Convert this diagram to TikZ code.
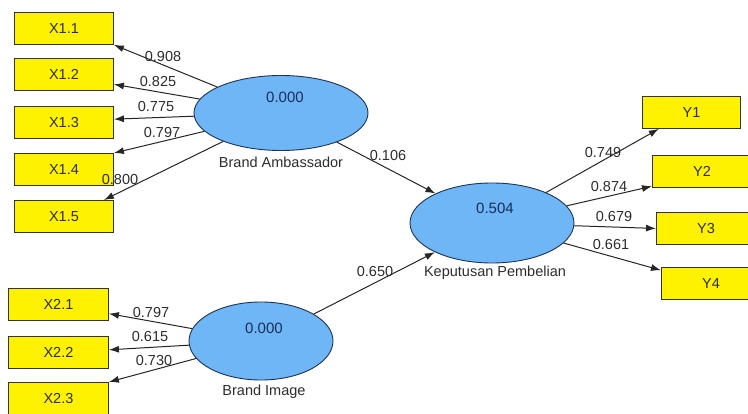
\documentclass[tikz,border=0pt]{standalone}
\usepackage{fontspec}
\setmainfont{Liberation Sans}
\usetikzlibrary{arrows.meta,calc,shapes.geometric}
\definecolor{lvfill}{RGB}{110,182,245}
\definecolor{lvline}{RGB}{30,50,85}
\definecolor{boxline}{RGB}{50,50,40}
\definecolor{txt}{RGB}{45,45,45}
\definecolor{numtxt}{RGB}{25,45,90}
\begin{document}
\begin{tikzpicture}[x=1pt,y=-1pt,
  mv/.style={draw=boxline, fill=yellow, line width=0.9pt, minimum width=99pt,
    minimum height=32pt, inner sep=0pt, anchor=north west,
    font=\fontsize{14.5}{14.5}\selectfont, text=txt},
  lv/.style={ellipse, draw=lvline, fill=lvfill, line width=0.9pt, inner sep=0pt},
  lvnum/.style={font=\fontsize{15}{15}\selectfont, text=numtxt, inner sep=0pt},
  lvname/.style={font=\fontsize{14.5}{14.5}\selectfont, text=txt, inner sep=0pt},
  coef/.style={font=\fontsize{14.5}{14.5}\selectfont, text=txt, inner sep=0pt},
  arr/.style={draw=black!85, line width=1pt, -{Latex[length=10pt,width=7pt]}}]
\useasboundingbox (0,0) rectangle (748,414);
\fill[white] (0,0) rectangle (748,414);

% indicator boxes
\node[mv] (X11) at (14,12) {X1.1};
\node[mv] (X12) at (14,58) {X1.2};
\node[mv] (X13) at (14,106) {X1.3};
\node[mv] (X14) at (14,153) {X1.4};
\node[mv] (X15) at (14,200) {X1.5};
\node[mv, minimum width=100pt] (X21) at (8,288) {X2.1};
\node[mv, minimum width=100pt] (X22) at (8,336) {X2.2};
\node[mv, minimum width=100pt] (X23) at (8,382) {X2.3};
\node[mv, minimum width=98pt] (Y1) at (642,96) {Y1};
\node[mv] (Y2) at (652,155) {Y2};
\node[mv] (Y3) at (656,212) {Y3};
\node[mv] (Y4) at (661,267) {Y4};

% latent variables
\node[lv, minimum width=174pt, minimum height=75pt] (BA) at (281,113) {};
\node[lv, minimum width=144pt, minimum height=78pt] (BI) at (261,341) {};
\node[lv, minimum width=164pt, minimum height=80pt] (KP) at (492,223) {};
\node[lvnum] (BAn) at (285,97) {0.000};
\node[lvnum] (BIn) at (264,328) {0.000};
\node[lvnum] (KPn) at (495,208) {0.504};
\node[lvname] (BAl) at (281,162) {Brand Ambassador};
\node[lvname] (BIl) at (264,392) {Brand Image};
\node[lvname] (KPl) at (495,273) {Keputusan Pembelian};

% outer loadings
\draw[arr] (BA) -- (X11.south east);
\draw[arr] (BA) -- ($(X12.north east)!0.8!(X12.south east)$);
\draw[arr] (BA) -- ($(X13.north east)!0.4!(X13.south east)$);
\draw[arr] (BA) -- (X14.north east);
\draw[arr] (BA) -- ($(X15.north west)!0.9!(X15.north east)$);
\draw[arr] (BI) -- ($(X21.north east)!0.78!(X21.south east)$);
\draw[arr] (BI) -- ($(X22.north east)!0.42!(X22.south east)$);
\draw[arr] (BI) -- (X23.north east);
\draw[arr] (KP) -- ($(Y1.south west)!0.17!(Y1.south east)$);
\draw[arr] (KP) -- ($(Y2.north west)!0.95!(Y2.south west)$);
\draw[arr] (KP) -- (Y3.west);
\draw[arr] (KP) -- ($(Y4.north west)!0.1!(Y4.south west)$);
% structural paths
\draw[arr] (BA) -- (KP);
\draw[arr] (BI) -- (KP);

% coefficients
\node[coef] (c1) at (163,57) {0.908};
\node[coef] (c2) at (158,82) {0.825};
\node[coef] (c3) at (156,107) {0.775};
\node[coef] (c4) at (162,133) {0.797};
\node[coef] (c5) at (120,180) {0.800};
\node[coef] (c6) at (151,313) {0.797};
\node[coef] (c7) at (150,337) {0.615};
\node[coef] (c8) at (154,361) {0.730};
\node[coef] (c9) at (388,156) {0.106};
\node[coef] (c10) at (375,272) {0.650};
\node[coef] (c11) at (603,153) {0.749};
\node[coef] (c12) at (609,187) {0.874};
\node[coef] (c13) at (614,217) {0.679};
\node[coef] (c14) at (611,245) {0.661};
\end{tikzpicture}
\end{document}
